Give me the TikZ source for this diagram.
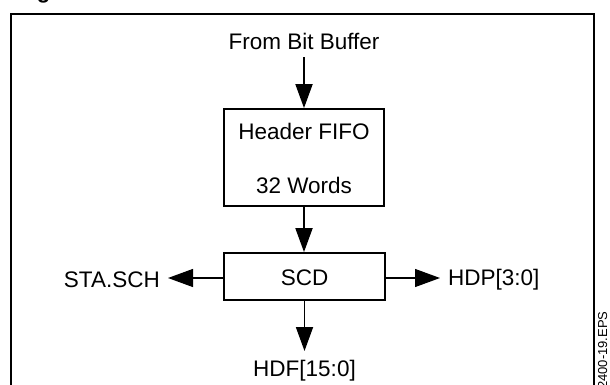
\documentclass[tikz,border=0pt]{standalone}
\usepackage{fontspec}
\setmainfont{Liberation Sans}
\usetikzlibrary{arrows.meta}

\tikzset{
  lbl/.style={inner sep=0pt, font=\fontsize{22.5}{27}\selectfont},
  blockbox/.style={draw, line width=1.8pt, inner sep=0pt},
  varrow/.style={line width=1.8pt, -{Triangle[length=24pt,width=17pt]}},
  harrow/.style={line width=1.2pt, -{Triangle[length=25pt,width=18pt]}},
}

\begin{document}
\begin{tikzpicture}[x=1pt,y=-1pt]
  \useasboundingbox (0,0) rectangle (610,385);
  \clip (0,0) rectangle (610,385);
  \fill[white] (0,0) rectangle (610,385);

  % caption remnant and outer frame
  \node[anchor=base, inner sep=0pt, font=\bfseries\fontsize{22}{26}\selectfont] (cap) at (43.5,-1.5) {g};
  \draw[line width=2pt] (11,400) -- (11,14) -- (594,14) -- (594,400);

  % source label
  \node[lbl, anchor=base, inner ysep=7pt] (src) at (304,50) {From Bit Buffer};

  % header FIFO
  \node[blockbox, minimum width=160pt, minimum height=97pt] (fifo) at (304,157.5) {};
  \node[lbl] (fifoA) at (304,131) {Header FIFO};
  \node[lbl] (fifoB) at (304,185) {32 Words};

  % SCD block
  \node[blockbox, minimum width=161pt, minimum height=47pt] (scd) at (304.5,276.5) {};
  \node[lbl] (scdt) at (304.5,278) {SCD};

  % outputs
  \node[lbl, anchor=east, inner xsep=8pt] (sta) at (168,280) {STA.SCH};
  \node[lbl, anchor=west, inner xsep=8pt] (hdp) at (440,280) {HDP[3:0]};
  \node[lbl, anchor=north, inner ysep=9pt] (hdf) at (304.5,351) {HDF[15:0]};

  % connectors
  \draw[varrow] (src.south) -- (fifo.north);
  \draw[varrow] (fifo.south) -- (fifo.south |- scd.north);
  \draw[varrow] (scd.south) -- (hdf.north);
  \draw[harrow] (scd.west |- 0,278) -- (sta.east |- 0,278);
  \draw[harrow] (scd.east |- 0,278) -- (hdp.west |- 0,278);

  % file tag
  \node[rotate=90, anchor=base west, inner sep=0pt, font=\fontsize{13}{15}\selectfont] (tag) at (607,389) {2400-19.EPS};
\end{tikzpicture}
\end{document}
